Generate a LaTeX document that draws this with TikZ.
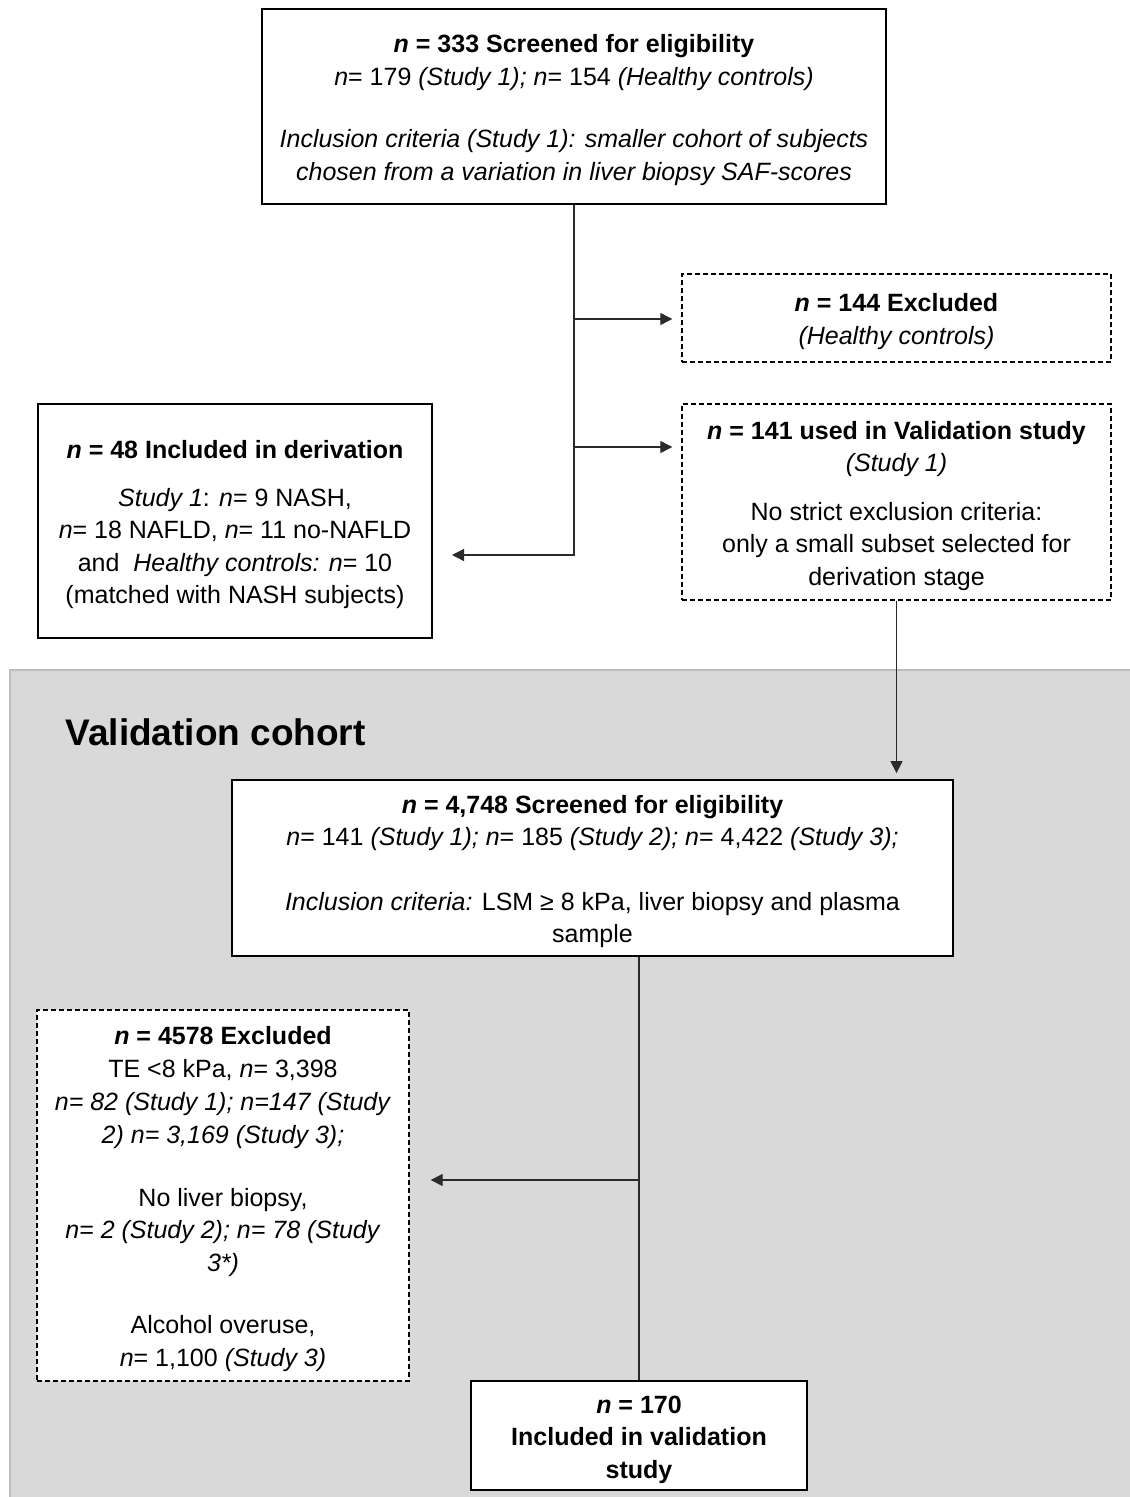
\documentclass[tikz,border=0pt]{standalone}
\usepackage{fontspec}
\setmainfont{Liberation Sans}
\usetikzlibrary{arrows.meta}
\definecolor{bggray}{HTML}{D9D9D9}
\definecolor{bgedge}{HTML}{BDBDBD}
\definecolor{linegray}{HTML}{2A2A2A}
\newcommand{\tpad}{\rule{0pt}{25.5pt}}
\tikzset{
  solidbox/.style={draw=black, line width=1.8pt, fill=white, align=center, inner sep=0pt,
    font=\fontsize{25}{32.5}\selectfont},
  dashbox/.style={draw=black, line width=1.4pt, dash pattern=on 5pt off 3pt, fill=white,
    align=center, inner sep=0pt, font=\fontsize{25}{32.5}\selectfont},
  conn/.style={draw=linegray, line width=1.3pt},
  arr/.style={conn, -{Triangle[length=12pt,width=12pt]}},
}
\begin{document}
\begin{tikzpicture}[x=1pt,y=-1pt]
\useasboundingbox (0,0) rectangle (1130,1497);
\fill[white] (0,0) rectangle (1130,1497);
% gray validation region
\fill[bggray] (10,670) rectangle (1130,1497);
\draw[bgedge, line width=1.2pt] (10,1497) -- (10,670) -- (1130,670);
\node[anchor=base west, font=\fontsize{37}{40}\selectfont\bfseries] (vc) at (62,745) {Validation cohort};

% top box
\node[solidbox, minimum width=624pt, minimum height=195pt] (top) at (574,106.5)
 {\tpad\textbf{\textit{n} = 333 Screened for eligibility}\\
  \textit{n}= 179 \textit{(Study 1); n}= 154 \textit{(Healthy controls)}\\[30pt]
  \textit{Inclusion criteria (Study 1): smaller cohort of subjects}\\
  \textit{chosen from a variation in liver biopsy SAF-scores}};

\node[dashbox, minimum width=429pt, minimum height=88pt] (ex144) at (896.5,318)
 {\tpad\textbf{\textit{n} = 144 Excluded}\\ \textit{(Healthy controls)}};

\node[dashbox, minimum width=429pt, minimum height=196pt] (val141) at (896.5,502)
 {\tpad\textbf{\textit{n} = 141 used in Validation study}\\ \textit{(Study 1)}\\[16pt]
  No strict exclusion criteria:\\ only a small subset selected for\\ derivation stage};

\node[solidbox, minimum width=394pt, minimum height=234pt] (inc48) at (235,521)
 {\tpad\textbf{\textit{n} = 48 Included in derivation}\\[15pt]
  \textit{Study 1}: \textit{n}= 9 NASH,\\
  \textit{n}= 18 NAFLD, \textit{n}= 11 no-NAFLD\\
  and\ \ \textit{Healthy controls: n}= 10\\
  (matched with NASH subjects)};

\node[solidbox, minimum width=721pt, minimum height=176pt] (scr) at (592.5,868)
 {\tpad\textbf{\textit{n} = 4,748 Screened for eligibility}\\
  \textit{n}= 141 \textit{(Study 1); n}= 185 \textit{(Study 2); n}= 4,422 \textit{(Study 3);}\\[32pt]
  \textit{Inclusion criteria:} LSM ≥ 8 kPa, liver biopsy and plasma\\
  sample};

\node[dashbox, minimum width=372pt, minimum height=371pt] (ex4578) at (223,1195.5)
 {\tpad\textbf{\textit{n} = 4578 Excluded}\\[0.5pt]
  TE <8 kPa, \textit{n}= 3,398\\[0.5pt]
  \textit{n= 82 (Study 1); n=147 (Study}\\[0.5pt]
  \textit{2) n= 3,169 (Study 3);}\\[30pt]
  No liver biopsy,\\
  \textit{n= 2 (Study 2); n= 78 (Study}\\
  \textit{3*)}\\[30pt]
  Alcohol overuse,\\
  \textit{n}= 1,100 \textit{(Study 3)}};

\node[solidbox, minimum width=336pt, minimum height=109pt] (inc170) at (639,1435.5)
 {\tpad\textbf{\textit{n} = 170}\\ \textbf{Included in validation}\\ \textbf{study}};

% connectors
\coordinate (b1) at (574,319);
\coordinate (b2) at (574,447);
\coordinate (tip48) at (452,555);
\coordinate (b3) at (639,1180);
\draw[arr] (top.south) |- (tip48);
\draw[arr, shorten >=9pt] (b1) -- (b1 -| ex144.west);
\draw[arr, shorten >=9pt] (b2) -- (b2 -| val141.west);
\draw[arr, shorten >=6pt] (val141.south) -- (val141.south |- scr.north);
\draw[conn] (scr.south -| inc170.north) -- (inc170.north);
\draw[arr, shorten >=21pt] (b3) -- (b3 -| ex4578.east);
\end{tikzpicture}
\end{document}
